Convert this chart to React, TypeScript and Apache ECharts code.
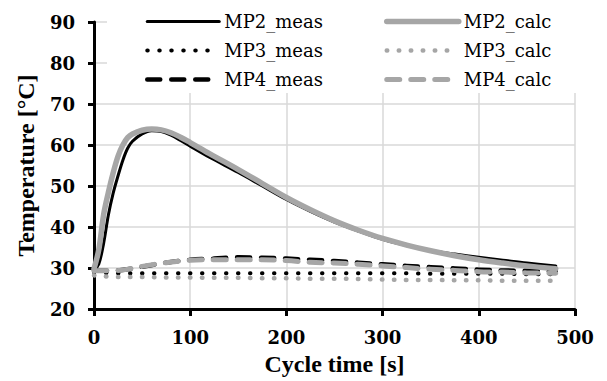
import React, { useEffect, useRef } from "react";
import * as echarts from "echarts";

const mp2Time = [0, 5, 10, 15, 20, 25, 30, 35, 40, 50, 60, 70, 80, 90, 100, 120, 150, 175, 200, 225, 250, 275, 300, 325, 350, 375, 400, 425, 450, 480];
const mp2Meas = [29.5, 31.0, 36.0, 43.0, 48.3, 52.5, 56.3, 59.2, 60.9, 62.7, 63.5, 63.3, 62.4, 61.1, 59.7, 57.0, 53.3, 50.0, 46.7, 43.8, 41.2, 39.0, 37.0, 35.5, 34.3, 33.4, 32.6, 31.9, 31.2, 30.5];
const mp2Calc = [29.8, 34.5, 43.0, 48.5, 53.3, 57.3, 60.0, 61.8, 62.7, 63.6, 63.9, 63.7, 63.0, 61.9, 60.6, 57.9, 54.0, 50.6, 47.2, 44.2, 41.5, 39.2, 37.2, 35.6, 34.2, 33.0, 32.0, 31.2, 30.5, 29.8];

const mp34Time = [0, 25, 50, 75, 100, 125, 150, 175, 200, 225, 250, 275, 300, 325, 350, 375, 400, 425, 450, 480];
const mp3Meas = [29.0, 28.7, 28.7, 28.7, 28.7, 28.7, 28.7, 28.7, 28.7, 28.7, 28.7, 28.7, 28.7, 28.7, 28.6, 28.6, 28.6, 28.6, 28.5, 28.5];
const mp3Calc = [28.2, 27.8, 27.8, 27.7, 27.7, 27.6, 27.6, 27.5, 27.5, 27.4, 27.4, 27.3, 27.2, 27.1, 27.1, 27.0, 27.0, 26.9, 26.9, 26.9];
const mp4Meas = [29.3, 29.4, 30.3, 31.3, 32.0, 32.3, 32.6, 32.5, 32.3, 32.0, 31.7, 31.3, 30.9, 30.5, 30.2, 29.9, 29.6, 29.4, 29.3, 29.2];
const mp4Calc = [29.3, 29.4, 30.4, 31.3, 31.9, 32.0, 32.0, 32.0, 31.8, 31.4, 31.2, 30.9, 30.5, 30.1, 29.7, 29.4, 29.1, 29.0, 28.8, 28.7];

const xTicks = [0, 100, 200, 300, 400, 500];
const yTicks = [20, 30, 40, 50, 60, 70, 80, 90];

const TITLE_FONT = "Liberation Serif";
const TEXT_FONT = "DejaVu Serif";

function pairs(t: number[], v: number[]) {
  return t.map((x, i) => [x, v[i]]);
}

export default function App() {
  const ref = useRef<HTMLDivElement>(null);
  useEffect(() => {
    if (!ref.current) return;
    const chart = echarts.init(ref.current, undefined, { renderer: "svg" });
    const black = "#000000";
    const gray = "#a6a6a6";
    const dotted = [0.5, 11.5];
    const dashed = [13, 11];
    const mk = (name: string, data: number[][], color: string, width: number, type: any) => ({
      name,
      type: "line",
      data,
      smooth: 0.35,
      symbol: "none",
      showSymbol: false,
      z: 2,
      lineStyle: { color, width, type, cap: "round", join: "round" },
      itemStyle: { color },
    });
    const legendCommon = {
      orient: "vertical",
      top: 11,
      padding: 0,
      itemWidth: 72,
      itemHeight: 14,
      itemGap: 8,
      itemStyle: { opacity: 0 },
      lineStyle: { width: "inherit", type: "inherit", cap: "inherit", color: "inherit" },
      textStyle: { fontFamily: TEXT_FONT, fontSize: 18, color: "#000", lineHeight: 21 },
      z: 5,
    };
    const labelStyle = { fontFamily: TEXT_FONT, fontSize: 18, fontWeight: "bold", color: "#000" };
    const nameStyle = { fontFamily: TITLE_FONT, fontSize: 24, fontWeight: "bold", color: "#000" };
    chart.setOption({
      animation: false,
      backgroundColor: "#ffffff",
      grid: { left: 94, right: 32, top: 22, bottom: 71, containLabel: false },
      graphic: [
        {
          type: "rect",
          z: 3,
          shape: { x: 107, y: 0, width: 480, height: 93 },
          style: { fill: "#ffffff" },
        },
      ],
      legend: [
        { ...legendCommon, left: 145, data: ["MP2_meas", "MP3_meas", "MP4_meas"] },
        { ...legendCommon, left: 384, data: ["MP2_calc", "MP3_calc", "MP4_calc"] },
      ],
      xAxis: {
        type: "value",
        min: xTicks[0],
        max: xTicks[xTicks.length - 1],
        interval: 100,
        name: "Cycle time [s]",
        nameLocation: "middle",
        nameGap: 43,
        nameTextStyle: nameStyle,
        axisLine: { show: true, onZero: false, lineStyle: { color: "#000", width: 3 } },
        axisTick: { show: true, length: 7, lineStyle: { color: "#000", width: 3 } },
        axisLabel: { ...labelStyle, margin: 19 },
        splitLine: { show: true, lineStyle: { color: "#d9d9d9", width: 1.5 } },
      },
      yAxis: {
        type: "value",
        min: yTicks[0],
        max: yTicks[yTicks.length - 1],
        interval: 10,
        name: "Temperature [°C]",
        nameLocation: "middle",
        nameGap: 56,
        nameTextStyle: nameStyle,
        axisLine: { show: true, onZero: false, lineStyle: { color: "#000", width: 3 } },
        axisTick: { show: true, length: 6, lineStyle: { color: "#000", width: 3 } },
        axisLabel: { ...labelStyle, margin: 19 },
        splitLine: { show: true, lineStyle: { color: "#d9d9d9", width: 1.5 } },
      },
      series: [
        mk("MP2_meas", pairs(mp2Time, mp2Meas), black, 3, "solid"),
        mk("MP3_meas", pairs(mp34Time, mp3Meas), black, 4, dotted),
        mk("MP4_meas", pairs(mp34Time, mp4Meas), black, 4.5, dashed),
        mk("MP2_calc", pairs(mp2Time, mp2Calc), gray, 5.5, "solid"),
        mk("MP3_calc", pairs(mp34Time, mp3Calc), gray, 4.5, dotted),
        mk("MP4_calc", pairs(mp34Time, mp4Calc), gray, 5, dashed),
      ],
    });
    return () => chart.dispose();
  }, []);
  return (
    <div
      ref={ref}
      style={{ position: "fixed", left: 0, top: 0, width: 607, height: 381, background: "#fff" }}
    />
  );
}
